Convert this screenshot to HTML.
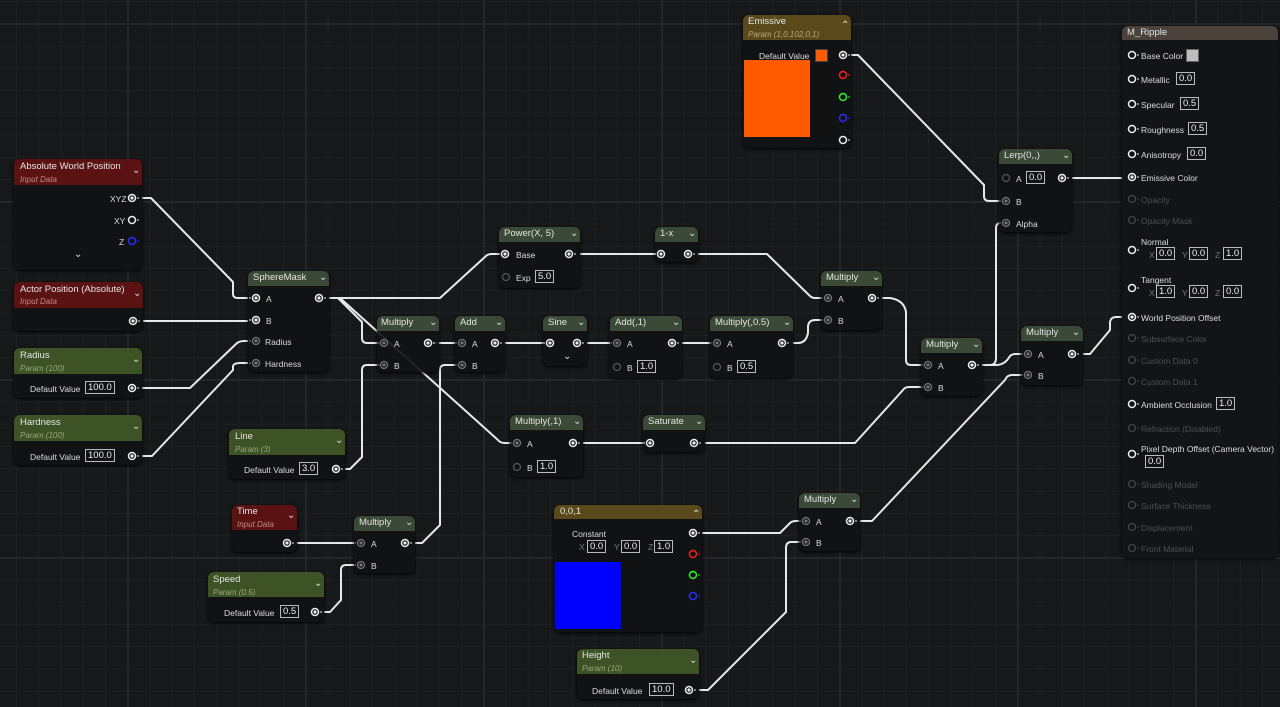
<!DOCTYPE html>
<html><head><meta charset="utf-8"><style>
html,body{margin:0;padding:0;}
body{width:1280px;height:707px;overflow:hidden;position:relative;background:#17181a;
background-image:
linear-gradient(to right,#252628 2px,transparent 2px),
linear-gradient(to bottom,#252628 2px,transparent 2px),
linear-gradient(to right,#1f2022 1px,transparent 1px),
linear-gradient(to bottom,#1f2022 1px,transparent 1px);
background-size:178px 178px,178px 178px,22.25px 22.25px,22.25px 22.25px;
background-position:127px 0,0 23px,16px 0,0 1px;
font-family:"Liberation Sans",sans-serif;}
.n{position:absolute;background:#111213;border-radius:6px;box-shadow:0 1px 3px #000;overflow:hidden}
.h{position:absolute;left:0;right:0;top:0}
.fn{background:#3a4a36;height:15px}
.pr{background:#3e5325;height:26px}
.in{background:#5b1212;height:26px}
.ol{background:#5a4a1b}
.t{position:absolute;font-size:8.5px;color:#ddd;line-height:10px;white-space:nowrap}
.tt{font-size:9.5px;color:#e4e4e4}
.sub{font-style:italic;color:#c08a8a;font-size:8px}
.sp{color:#9aa67a}
.so{color:#b9a877}
.b{border:1px solid #bbb;padding:0 2px;font-size:9.5px;line-height:11px;color:#eee}
.d{color:#4e4f51}
.c{position:absolute;color:#ddd;font-size:10px;line-height:10px}
svg{position:absolute;left:0;top:0}
</style></head><body>

<svg width="1280" height="707" style="z-index:1">
<g fill="none" stroke="#e8e8e8" stroke-width="2" stroke-linejoin="round">
<path d="M137 198 H151 L233 282 V294 Q233 298 238 298 H253"/>
<path d="M137 321 H253"/>
<path d="M137 388 H190 L236 344 Q239 341 244 341 H253"/>
<path d="M137 456 H152 L233 370 V366 Q234 363 240 363 H253"/>
<path d="M324 298 H440 L486 256 Q488 254 492 254 H502"/>
<path d="M324 298 H338 L362 322 V338 Q362 343 367 343 H381"/>
<path d="M340 298 L498 440 Q500 443 505 443 H514"/>
<path d="M340 469 H350 L362 457 V370 Q362 365 367 365 H381"/>
<path d="M291 543 H358"/>
<path d="M319 612 H330 L341 600 V570 Q341 565 346 565 H358"/>
<path d="M409 543 H422 L440 525 V370 Q440 365 445 365 H459"/>
<path d="M432 343 H459"/>
<path d="M499 343 H547"/>
<path d="M581 343 H614"/>
<path d="M676 343 H714"/>
<path d="M786 343 H798 Q806 343 808 333 V326 Q809 320 815 320 H825"/>
<path d="M573 254 H658"/>
<path d="M692 254 H767 L810 296 Q812 298 815 298 H825"/>
<path d="M577 443 H647"/>
<path d="M698 443 H855 L903 390 Q905 387 909 387 H925"/>
<path d="M876 298 H890 Q904 300 906 312 V360 Q906 365 911 365 H925"/>
<path d="M976 365 H990 Q996 365 996 358 V228 Q996 223 1001 223 H1003"/>
<path d="M976 365 H996 Q1005 365 1010 356 Q1012 354 1016 354 H1025"/>
<path d="M847 55 H858 L984 185 V196 Q984 201 989 201 H1003"/>
<path d="M1066 178 H1129"/>
<path d="M1076 354 H1090 L1110 330 V322 Q1111 317 1116 317 H1129"/>
<path d="M854 521 H872 L1005 380 Q1007 375 1012 375 H1025"/>
<path d="M697 533 H780 L790 523 Q792 521 796 521 H803"/>
<path d="M693 690 H708 L786 612 V548 Q786 542 791 542 H803"/>
</g></svg>

<!-- nodes -->
<div class="n" style="left:14px;top:159px;width:128px;height:111px;z-index:2"><div class="h in"></div></div>
<div class="n" style="left:14px;top:282px;width:129px;height:49px;z-index:2"><div class="h in"></div></div>
<div class="n" style="left:14px;top:348px;width:128px;height:50px;z-index:2"><div class="h pr"></div></div>
<div class="n" style="left:14px;top:415px;width:128px;height:50px;z-index:2"><div class="h pr"></div></div>
<div class="n" style="left:248px;top:271px;width:81px;height:101px;z-index:2"><div class="h fn"></div></div>
<div class="n" style="left:229px;top:429px;width:116px;height:50px;z-index:2"><div class="h pr"></div></div>
<div class="n" style="left:232px;top:505px;width:65px;height:47px;z-index:2"><div class="h in" style="height:25px"></div></div>
<div class="n" style="left:208px;top:572px;width:116px;height:50px;z-index:2"><div class="h pr" style="height:25px"></div></div>
<div class="n" style="left:377px;top:316px;width:62px;height:56px;z-index:2;background:rgba(17,18,19,.92)"><div class="h fn"></div></div>
<div class="n" style="left:455px;top:316px;width:50px;height:56px;z-index:2"><div class="h fn"></div></div>
<div class="n" style="left:354px;top:516px;width:61px;height:57px;z-index:2"><div class="h fn"></div></div>
<div class="n" style="left:499px;top:227px;width:81px;height:61px;z-index:2"><div class="h fn"></div></div>
<div class="n" style="left:655px;top:227px;width:43px;height:35px;z-index:2"><div class="h fn"></div></div>
<div class="n" style="left:543px;top:316px;width:44px;height:50px;z-index:2"><div class="h fn"></div></div>
<div class="n" style="left:610px;top:316px;width:72px;height:62px;z-index:2"><div class="h fn"></div></div>
<div class="n" style="left:710px;top:316px;width:83px;height:62px;z-index:2"><div class="h fn"></div></div>
<div class="n" style="left:821px;top:271px;width:61px;height:59px;z-index:2"><div class="h fn"></div></div>
<div class="n" style="left:510px;top:415px;width:73px;height:62px;z-index:2"><div class="h fn"></div></div>
<div class="n" style="left:643px;top:415px;width:62px;height:37px;z-index:2"><div class="h fn"></div></div>
<div class="n" style="left:921px;top:338px;width:61px;height:58px;z-index:2"><div class="h fn"></div></div>
<div class="n" style="left:999px;top:149px;width:73px;height:83px;z-index:2"><div class="h fn"></div></div>
<div class="n" style="left:1021px;top:326px;width:62px;height:59px;z-index:2"><div class="h fn"></div></div>
<div class="n" style="left:799px;top:493px;width:61px;height:58px;z-index:2"><div class="h fn"></div></div>
<div class="n" style="left:743px;top:15px;width:108px;height:133px;z-index:2"><div class="h ol" style="height:25px"></div><div style="position:absolute;left:1px;top:45px;width:66px;height:77px;background:#ff5a00"></div></div>
<div class="n" style="left:554px;top:505px;width:148px;height:127px;z-index:2"><div class="h ol" style="height:14px"></div><div style="position:absolute;left:1px;top:57px;width:66px;height:67px;background:#0000ff"></div></div>
<div class="n" style="left:577px;top:649px;width:122px;height:50px;z-index:2"><div class="h pr" style="height:25px"></div></div>
<div class="n" style="left:1122px;top:26px;width:156px;height:532px;z-index:2;background:#131415"><div class="h" style="height:14px;background:#4a423b"></div></div>

<!-- pins -->
<svg width="1280" height="707" style="z-index:3">
<defs>
<g id="o"><circle r="3.5" fill="none" stroke="#eee" stroke-width="1.5"/><circle r="1.6" fill="#eee"/><path d="M5 0 H7" stroke="#eee" stroke-width="1"/></g>
<g id="oe"><circle r="3.5" fill="none" stroke="#eee" stroke-width="1.5"/><path d="M5 0 H7" stroke="#eee" stroke-width="1"/></g>
<g id="i"><circle r="3.5" fill="none" stroke="#777" stroke-width="1.3"/><circle r="1.6" fill="#777"/><path d="M-7 0 H-5" stroke="#777"/></g>
<g id="ie"><circle r="3.5" fill="none" stroke="#555" stroke-width="1.3"/></g>
<g id="iw"><circle r="3.5" fill="none" stroke="#eee" stroke-width="1.5"/><circle r="1.6" fill="#eee"/><path d="M-7 0 H-5" stroke="#eee"/></g>
<g id="d"><circle r="3.5" fill="none" stroke="#444" stroke-width="1.3"/><path d="M5 0 H7" stroke="#444"/></g>
</defs>
<use href="#o" x="132" y="198"/><use href="#oe" x="132" y="220"/>
<g transform="translate(132 241)"><circle r="3.5" fill="none" stroke="#2a2aff" stroke-width="1.5"/><path d="M5 0 H7" stroke="#2a2aff"/></g>
<use href="#o" x="133" y="321"/><use href="#o" x="132" y="388"/><use href="#o" x="132" y="456"/>
<use href="#iw" x="256" y="298"/><use href="#iw" x="256" y="320"/><use href="#i" x="256" y="341"/><use href="#i" x="256" y="363"/><use href="#o" x="319" y="298"/>
<use href="#o" x="336" y="469"/><use href="#o" x="287" y="543"/><use href="#o" x="315" y="612"/>
<use href="#i" x="384" y="343"/><use href="#i" x="384" y="365"/><use href="#o" x="428" y="343"/>
<use href="#i" x="462" y="343"/><use href="#i" x="462" y="365"/><use href="#o" x="495" y="343"/>
<use href="#i" x="361" y="543"/><use href="#i" x="361" y="565"/><use href="#o" x="405" y="543"/>
<use href="#iw" x="505" y="254"/><use href="#ie" x="506" y="277"/><use href="#o" x="569" y="254"/>
<use href="#iw" x="661" y="254"/><use href="#o" x="688" y="254"/>
<use href="#iw" x="550" y="343"/><use href="#o" x="577" y="343"/>
<use href="#i" x="617" y="343"/><use href="#ie" x="617" y="367"/><use href="#o" x="672" y="343"/>
<use href="#i" x="717" y="343"/><use href="#ie" x="717" y="367"/><use href="#o" x="782" y="343"/>
<use href="#i" x="828" y="298"/><use href="#i" x="828" y="320"/><use href="#o" x="872" y="298"/>
<use href="#i" x="517" y="443"/><use href="#ie" x="517" y="467"/><use href="#o" x="573" y="443"/>
<use href="#iw" x="650" y="443"/><use href="#o" x="694" y="443"/>
<use href="#i" x="928" y="365"/><use href="#i" x="928" y="387"/><use href="#o" x="972" y="365"/>
<use href="#ie" x="1006" y="178"/><use href="#i" x="1006" y="201"/><use href="#i" x="1006" y="223"/><use href="#o" x="1062" y="178"/>
<use href="#i" x="1028" y="354"/><use href="#i" x="1028" y="375"/><use href="#o" x="1072" y="354"/>
<use href="#i" x="806" y="521"/><use href="#i" x="806" y="542"/><use href="#o" x="850" y="521"/>
<use href="#o" x="843" y="55"/>
<g transform="translate(843 75)"><circle r="3.5" fill="none" stroke="#ff2020" stroke-width="1.5"/><path d="M5 0 H7" stroke="#ff2020"/></g>
<g transform="translate(843 97)"><circle r="3.5" fill="none" stroke="#20ff20" stroke-width="1.5"/><path d="M5 0 H7" stroke="#20ff20"/></g>
<g transform="translate(843 118)"><circle r="3.5" fill="none" stroke="#2a2aff" stroke-width="1.5"/><path d="M5 0 H7" stroke="#2a2aff"/></g>
<use href="#oe" x="843" y="140"/>
<use href="#o" x="693" y="533"/>
<g transform="translate(693 554)"><circle r="3.5" fill="none" stroke="#ff2020" stroke-width="1.5"/><path d="M5 0 H7" stroke="#ff2020"/></g>
<g transform="translate(693 575)"><circle r="3.5" fill="none" stroke="#20ff20" stroke-width="1.5"/><path d="M5 0 H7" stroke="#20ff20"/></g>
<g transform="translate(693 596)"><circle r="3.5" fill="none" stroke="#2a2aff" stroke-width="1.5"/><path d="M5 0 H7" stroke="#2a2aff"/></g>
<use href="#o" x="689" y="690"/>
<use href="#oe" x="1132" y="55"/><use href="#oe" x="1132" y="79"/><use href="#oe" x="1132" y="104"/><use href="#oe" x="1132" y="129"/><use href="#oe" x="1132" y="154"/>
<use href="#o" x="1132" y="177"/><use href="#d" x="1132" y="199"/><use href="#d" x="1132" y="220"/>
<use href="#oe" x="1132" y="250"/><use href="#oe" x="1132" y="288"/><use href="#o" x="1132" y="317"/>
<use href="#d" x="1132" y="338"/><use href="#d" x="1132" y="360"/><use href="#d" x="1132" y="381"/>
<use href="#oe" x="1132" y="404"/><use href="#d" x="1132" y="428"/><use href="#oe" x="1132" y="454"/>
<use href="#d" x="1132" y="484"/><use href="#d" x="1132" y="505"/><use href="#d" x="1132" y="527"/><use href="#d" x="1132" y="548"/>
</svg>

<div style="position:absolute;left:0;top:0;z-index:4">
<span class="t tt" style="left:20px;top:162px">Absolute World Position</span><span class="t sub" style="left:20px;top:175px">Input Data</span><span class="c" style="left:132px;top:166px">⌄</span>
<span class="t" style="left:110px;top:194px">XYZ</span><span class="t" style="left:114px;top:216px">XY</span><span class="t" style="left:119px;top:237px">Z</span><span class="c" style="left:74px;top:250px">⌄</span>
<span class="t tt" style="left:20px;top:285px">Actor Position (Absolute)</span><span class="t sub" style="left:20px;top:297px">Input Data</span><span class="c" style="left:133px;top:289px">⌄</span>
<span class="t tt" style="left:20px;top:351px">Radius</span><span class="t sub sp" style="left:20px;top:364px">Param (100)</span><span class="c" style="left:132px;top:355px">⌄</span>
<span class="t" style="left:30px;top:384px">Default Value</span><span class="t b" style="left:85px;top:381px">100.0</span>
<span class="t tt" style="left:20px;top:418px">Hardness</span><span class="t sub sp" style="left:20px;top:431px">Param (100)</span><span class="c" style="left:132px;top:422px">⌄</span>
<span class="t" style="left:30px;top:452px">Default Value</span><span class="t b" style="left:85px;top:449px">100.0</span>
<span class="t tt" style="left:253px;top:273px">SphereMask</span><span class="c" style="left:319px;top:273px">⌄</span>
<span class="t" style="left:266px;top:294px">A</span><span class="t" style="left:266px;top:316px">B</span><span class="t" style="left:265px;top:337px">Radius</span><span class="t" style="left:265px;top:359px">Hardness</span>
<span class="t tt" style="left:235px;top:432px">Line</span><span class="t sub sp" style="left:235px;top:445px">Param (3)</span><span class="c" style="left:335px;top:436px">⌄</span>
<span class="t" style="left:244px;top:465px">Default Value</span><span class="t b" style="left:299px;top:462px">3.0</span>
<span class="t tt" style="left:237px;top:507px">Time</span><span class="t sub" style="left:237px;top:520px">Input Data</span><span class="c" style="left:287px;top:511px">⌄</span>
<span class="t tt" style="left:213px;top:575px">Speed</span><span class="t sub sp" style="left:213px;top:588px">Param (0.5)</span><span class="c" style="left:314px;top:579px">⌄</span>
<span class="t" style="left:224px;top:608px">Default Value</span><span class="t b" style="left:280px;top:605px">0.5</span>
<span class="t tt" style="left:381px;top:318px">Multiply</span><span class="c" style="left:429px;top:318px">⌄</span><span class="t" style="left:394px;top:339px">A</span><span class="t" style="left:394px;top:361px">B</span>
<span class="t tt" style="left:460px;top:318px">Add</span><span class="c" style="left:495px;top:318px">⌄</span><span class="t" style="left:472px;top:339px">A</span><span class="t" style="left:472px;top:361px">B</span>
<span class="t tt" style="left:359px;top:518px">Multiply</span><span class="c" style="left:405px;top:518px">⌄</span><span class="t" style="left:371px;top:539px">A</span><span class="t" style="left:371px;top:561px">B</span>
<span class="t tt" style="left:504px;top:229px">Power(X, 5)</span><span class="c" style="left:570px;top:229px">⌄</span><span class="t" style="left:516px;top:250px">Base</span><span class="t" style="left:516px;top:273px">Exp</span><span class="t b" style="left:535px;top:270px">5.0</span>
<span class="t tt" style="left:660px;top:229px">1-x</span><span class="c" style="left:688px;top:229px">⌄</span>
<span class="t tt" style="left:548px;top:318px">Sine</span><span class="c" style="left:577px;top:318px">⌄</span><span class="c" style="left:563px;top:352px">⌄</span>
<span class="t tt" style="left:615px;top:318px">Add(,1)</span><span class="c" style="left:672px;top:318px">⌄</span><span class="t" style="left:627px;top:339px">A</span><span class="t" style="left:627px;top:363px">B</span><span class="t b" style="left:637px;top:360px">1.0</span>
<span class="t tt" style="left:715px;top:318px">Multiply(,0.5)</span><span class="c" style="left:783px;top:318px">⌄</span><span class="t" style="left:727px;top:339px">A</span><span class="t" style="left:727px;top:363px">B</span><span class="t b" style="left:737px;top:360px">0.5</span>
<span class="t tt" style="left:826px;top:273px">Multiply</span><span class="c" style="left:872px;top:273px">⌄</span><span class="t" style="left:838px;top:294px">A</span><span class="t" style="left:838px;top:316px">B</span>
<span class="t tt" style="left:515px;top:417px">Multiply(,1)</span><span class="c" style="left:573px;top:417px">⌄</span><span class="t" style="left:527px;top:439px">A</span><span class="t" style="left:527px;top:463px">B</span><span class="t b" style="left:537px;top:460px">1.0</span>
<span class="t tt" style="left:648px;top:417px">Saturate</span><span class="c" style="left:695px;top:417px">⌄</span>
<span class="t tt" style="left:926px;top:340px">Multiply</span><span class="c" style="left:972px;top:340px">⌄</span><span class="t" style="left:938px;top:361px">A</span><span class="t" style="left:938px;top:383px">B</span>
<span class="t tt" style="left:1004px;top:151px">Lerp(0,,)</span><span class="c" style="left:1062px;top:151px">⌄</span><span class="t" style="left:1016px;top:174px">A</span><span class="t b" style="left:1026px;top:171px">0.0</span><span class="t" style="left:1016px;top:197px">B</span><span class="t" style="left:1016px;top:219px">Alpha</span>
<span class="t tt" style="left:1026px;top:328px">Multiply</span><span class="c" style="left:1072px;top:328px">⌄</span><span class="t" style="left:1038px;top:350px">A</span><span class="t" style="left:1038px;top:371px">B</span>
<span class="t tt" style="left:804px;top:495px">Multiply</span><span class="c" style="left:850px;top:495px">⌄</span><span class="t" style="left:816px;top:517px">A</span><span class="t" style="left:816px;top:538px">B</span>
<span class="t tt" style="left:748px;top:17px">Emissive</span><span class="t sub so" style="left:748px;top:30px">Param (1,0.102,0,1)</span><span class="c" style="left:841px;top:21px">⌃</span>
<span class="t" style="left:759px;top:51px">Default Value</span><span style="position:absolute;left:815px;top:49px;width:11px;height:11px;background:#ff5a00;border:1px solid #444"></span>
<span class="t tt" style="left:560px;top:507px">0,0,1</span><span class="c" style="left:692px;top:510px">⌃</span>
<span class="t" style="left:572px;top:529px">Constant</span>
<span class="t" style="left:579px;top:542px;color:#777">X</span><span class="t b" style="left:587px;top:540px">0.0</span><span class="t" style="left:614px;top:542px;color:#777">Y</span><span class="t b" style="left:621px;top:540px">0.0</span><span class="t" style="left:648px;top:542px;color:#777">Z</span><span class="t b" style="left:654px;top:540px">1.0</span>
<span class="t tt" style="left:582px;top:651px">Height</span><span class="t sub sp" style="left:582px;top:664px">Param (10)</span><span class="c" style="left:689px;top:656px">⌄</span>
<span class="t" style="left:592px;top:686px">Default Value</span><span class="t b" style="left:649px;top:683px">10.0</span>
<span class="t tt" style="left:1127px;top:28px">M_Ripple</span>
<span class="t" style="left:1141px;top:51px">Base Color</span><span style="position:absolute;left:1186px;top:49px;width:11px;height:11px;background:#bdbdbd;border:1px solid #666"></span>
<span class="t" style="left:1141px;top:75px">Metallic</span><span class="t b" style="left:1176px;top:72px">0.0</span>
<span class="t" style="left:1141px;top:100px">Specular</span><span class="t b" style="left:1180px;top:97px">0.5</span>
<span class="t" style="left:1141px;top:125px">Roughness</span><span class="t b" style="left:1188px;top:122px">0.5</span>
<span class="t" style="left:1141px;top:150px">Anisotropy</span><span class="t b" style="left:1187px;top:147px">0.0</span>
<span class="t" style="left:1141px;top:173px">Emissive Color</span>
<span class="t d" style="left:1141px;top:195px">Opacity</span>
<span class="t d" style="left:1141px;top:216px">Opacity Mask</span>
<span class="t" style="left:1141px;top:237px">Normal</span>
<span class="t" style="left:1149px;top:250px;color:#777">X</span><span class="t b" style="left:1156px;top:247px">0.0</span><span class="t" style="left:1182px;top:250px;color:#777">Y</span><span class="t b" style="left:1189px;top:247px">0.0</span><span class="t" style="left:1215px;top:250px;color:#777">Z</span><span class="t b" style="left:1223px;top:247px">1.0</span>
<span class="t" style="left:1141px;top:275px">Tangent</span>
<span class="t" style="left:1149px;top:288px;color:#777">X</span><span class="t b" style="left:1156px;top:285px">1.0</span><span class="t" style="left:1182px;top:288px;color:#777">Y</span><span class="t b" style="left:1189px;top:285px">0.0</span><span class="t" style="left:1215px;top:288px;color:#777">Z</span><span class="t b" style="left:1223px;top:285px">0.0</span>
<span class="t" style="left:1141px;top:313px">World Position Offset</span>
<span class="t d" style="left:1141px;top:334px">Subsurface Color</span>
<span class="t d" style="left:1141px;top:356px">Custom Data 0</span>
<span class="t d" style="left:1141px;top:377px">Custom Data 1</span>
<span class="t" style="left:1141px;top:400px">Ambient Occlusion</span><span class="t b" style="left:1216px;top:397px">1.0</span>
<span class="t" style="left:1141px;top:444px">Pixel Depth Offset (Camera Vector)</span><span class="t b" style="left:1145px;top:455px">0.0</span>
<span class="t d" style="left:1141px;top:424px">Refraction (Disabled)</span>
<span class="t d" style="left:1141px;top:480px">Shading Model</span>
<span class="t d" style="left:1141px;top:501px">Surface Thickness</span>
<span class="t d" style="left:1141px;top:523px">Displacement</span>
<span class="t d" style="left:1141px;top:544px">Front Material</span>
</div>
</body></html>
